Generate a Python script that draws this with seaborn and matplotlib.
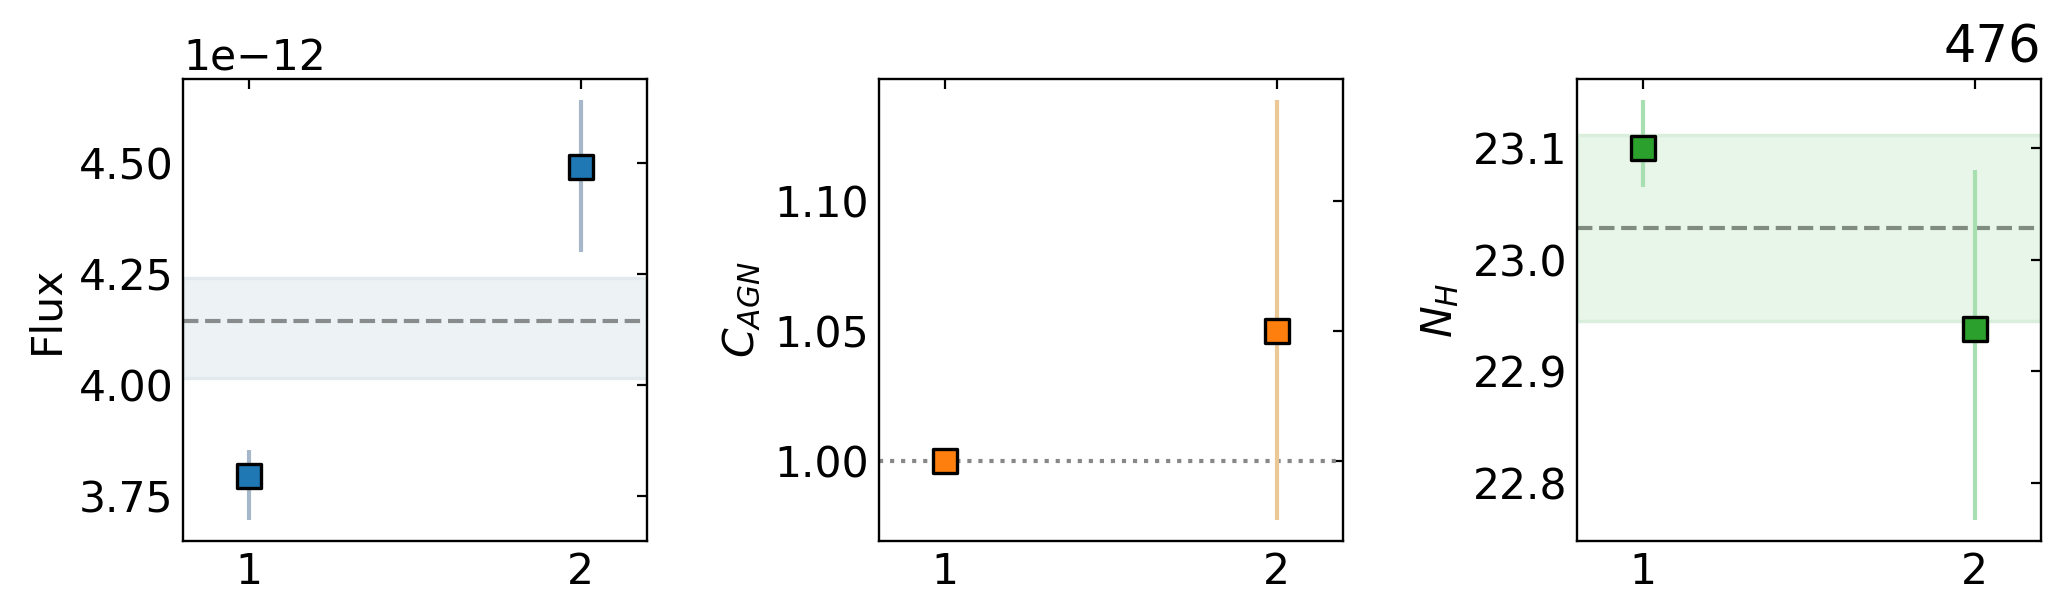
import numpy as np
import pandas as pd
import matplotlib
matplotlib.use("Agg")
import matplotlib.pyplot as plt
import seaborn as sns

# ---- data ----
obs = [1, 2]
flux = [3.797e-12, 4.491e-12]
flux_lo = [3.697e-12, 4.300e-12]
flux_hi = [3.854e-12, 4.641e-12]
flux_mean = 4.145e-12
flux_band = [4.016e-12, 4.240e-12]

cagn = [1.000, 1.050]
cagn_lo = [1.000, 0.9773]
cagn_hi = [1.000, 1.139]
cagn_ref = 1.0

nh = [23.100, 22.938]
nh_lo = [23.065, 22.767]
nh_hi = [23.143, 23.080]
nh_mean = 23.028
nh_band = [22.945, 23.112]

title_text = "476"

sns.set_style("white")
plt.rcParams["font.family"] = ["DejaVu Sans"]
plt.rcParams["font.size"] = 15.3
plt.rcParams["mathtext.fontset"] = "dejavusans"
for k in ["text.color", "axes.labelcolor", "xtick.color", "ytick.color",
          "axes.edgecolor", "xtick.labelcolor", "ytick.labelcolor"]:
    plt.rcParams[k] = "black"

fig = plt.figure(figsize=(10.31, 3.07), dpi=200)
H = 462 / 614
B = 73 / 614
W = 464 / 2062
lefts = [183 / 2062, 879 / 2062, 1577 / 2062]
axes = [fig.add_axes([l, B, W, H]) for l in lefts]

panels = [
    dict(y=flux, lo=flux_lo, hi=flux_hi, color="#1f77b4", ecolor="#a5b7c8",
         label="Flux", mean=flux_mean, band=flux_band, lcolor="#888c8c",
         bcolor="#edf2f5", becolor="#e3eaee", ls="--"),
    dict(y=cagn, lo=cagn_lo, hi=cagn_hi, color="#ff7f0e", ecolor="#ecc896",
         label=r"$C_{AGN}$", mean=cagn_ref, band=None, lcolor="#888888",
         bcolor=None, becolor=None, ls=":"),
    dict(y=nh, lo=nh_lo, hi=nh_hi, color="#2ca02c", ecolor="#a8dfb0",
         label=r"$N_H$", mean=nh_mean, band=nh_band, lcolor="#808c80",
         bcolor="#e8f5e9", becolor="#d9efdc", ls="--"),
]

for ax, p in zip(axes, panels):
    df = pd.DataFrame({"obs": obs, "val": p["y"]})
    yerr = np.array([np.array(p["y"]) - np.array(p["lo"]),
                     np.array(p["hi"]) - np.array(p["y"])])
    if p["band"] is not None:
        ax.axhspan(p["band"][0], p["band"][1], facecolor=p["bcolor"],
                   edgecolor=p["becolor"], lw=1.2, zorder=0)
    ax.axhline(p["mean"], color=p["lcolor"], ls=p["ls"], lw=1.5, zorder=1)
    mask = yerr.sum(axis=0) > 0
    ax.errorbar(np.array(obs)[mask], np.array(p["y"])[mask],
                yerr=yerr[:, mask], fmt="none", ecolor=p["ecolor"],
                elinewidth=1.5, capsize=0, zorder=2)
    sns.scatterplot(data=df, x="obs", y="val", ax=ax, marker="s", s=78,
                    color=p["color"], edgecolor="black", linewidth=1.2,
                    zorder=3, legend=False)
    ax.set_xlim(0.8, 2.2)
    ax.set_xticks([1, 2])
    ax.set_xlabel("")
    ax.set_ylabel(p["label"])
    ax.tick_params(direction="in", top=True, right=True, length=3.5,
                   width=0.8, labelsize=15.3, colors="black")
    for s in ax.spines.values():
        s.set_linewidth(0.85)
        s.set_color("black")

axes[0].ticklabel_format(axis="y", style="sci", scilimits=(0, 0), useMathText=False)
axes[0].set_yticks([3.75e-12, 4.0e-12, 4.25e-12, 4.5e-12])
axes[1].set_yticks([1.00, 1.05, 1.10])
axes[2].set_yticks([22.8, 22.9, 23.0, 23.1])
axes[2].set_title(title_text, loc="right", fontsize=18.4, color="black")

fig.savefig("out.png", dpi=200)
